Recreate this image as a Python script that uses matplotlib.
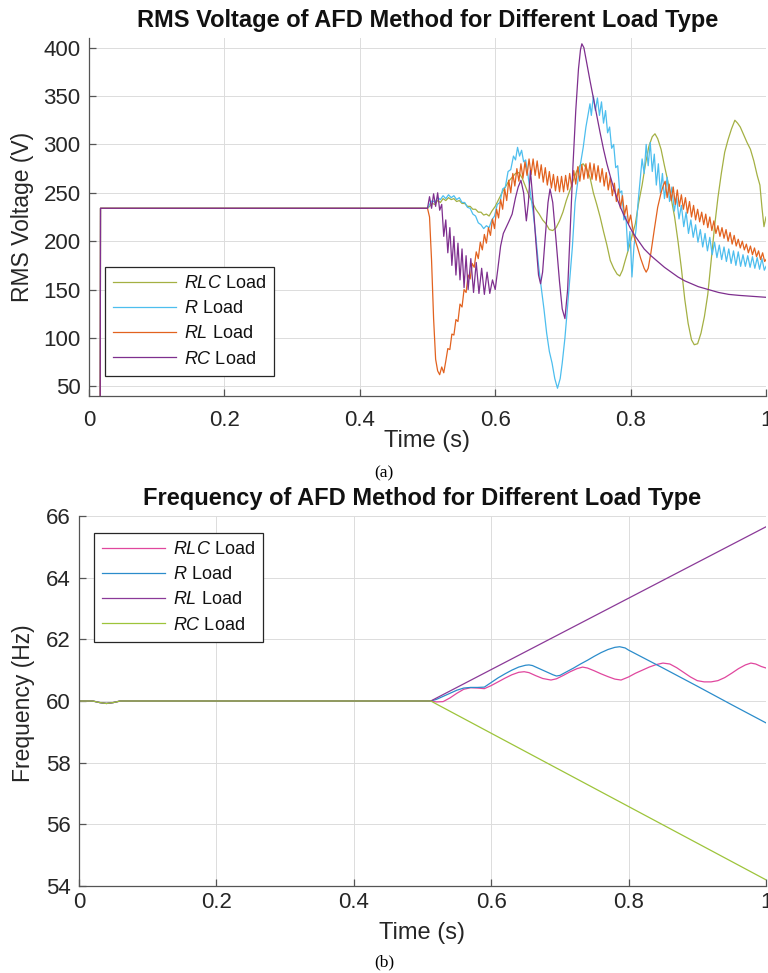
import numpy as np
import matplotlib.pyplot as plt

plt.rcParams['font.family'] = 'Liberation Sans'
plt.rcParams['mathtext.fontset'] = 'custom'
plt.rcParams['mathtext.rm'] = 'Liberation Sans'
plt.rcParams['mathtext.it'] = 'Liberation Sans:italic'

labels = ['$\\mathit{RLC}$ Load', '$\\mathit{R}$ Load', '$\\mathit{RL}$ Load', '$\\mathit{RC}$ Load']

# ---------------- (a) RMS voltage ----------------
start_t = [0.0, 0.0165, 0.017, 0.5]
start_v = [0, 0, 234, 234]

rlc_rms = [(0.503, 236), (0.507, 239), (0.511, 238), (0.515, 242), (0.519, 240), (0.523, 244),
           (0.527, 242), (0.531, 245), (0.535, 243), (0.539, 244), (0.543, 241), (0.547, 242),
           (0.551, 239), (0.555, 239), (0.559, 236), (0.563, 236), (0.567, 233), (0.571, 233),
           (0.575, 230), (0.579, 230), (0.583, 227), (0.587, 228), (0.591, 226), (0.595, 231),
           (0.600, 236), (0.605, 243), (0.610, 250), (0.615, 256), (0.620, 262), (0.625, 266),
           (0.630, 270), (0.635, 271), (0.640, 265), (0.645, 256), (0.650, 247), (0.655, 240),
           (0.660, 233), (0.665, 228), (0.670, 222), (0.675, 218), (0.680, 212), (0.685, 211),
           (0.690, 214), (0.695, 221), (0.700, 230), (0.705, 242), (0.710, 252), (0.715, 262),
           (0.720, 272), (0.725, 278), (0.730, 280), (0.735, 275), (0.740, 266), (0.745, 250),
           (0.750, 238), (0.755, 225), (0.760, 210), (0.765, 196), (0.770, 180), (0.775, 172),
           (0.780, 166), (0.784, 164), (0.788, 170), (0.792, 180), (0.797, 192), (0.802, 205),
           (0.807, 218), (0.812, 240), (0.817, 258), (0.822, 280), (0.827, 298), (0.832, 308),
           (0.836, 311), (0.840, 306), (0.845, 295), (0.850, 278), (0.855, 262), (0.860, 244),
           (0.865, 225), (0.870, 200), (0.875, 172), (0.880, 140), (0.885, 115), (0.890, 98),
           (0.894, 93), (0.899, 94), (0.904, 105), (0.909, 122), (0.914, 145), (0.919, 180),
           (0.924, 215), (0.929, 245), (0.934, 270), (0.939, 292), (0.944, 305), (0.949, 316),
           (0.954, 325), (0.958, 322), (0.962, 318), (0.967, 310), (0.972, 302), (0.977, 295),
           (0.982, 283), (0.987, 268), (0.991, 258), (0.994, 235), (0.997, 215), (1.000, 225)]

r_rms = [(0.503, 238), (0.507, 242), (0.511, 240), (0.515, 245), (0.519, 243), (0.523, 247),
         (0.527, 244), (0.531, 248), (0.535, 245), (0.539, 247), (0.543, 243), (0.547, 245),
         (0.551, 240), (0.555, 240), (0.559, 235), (0.563, 234), (0.567, 228), (0.571, 226),
         (0.575, 219), (0.579, 217), (0.583, 213), (0.587, 216), (0.591, 214), (0.595, 222),
         (0.599, 226), (0.603, 238), (0.607, 240), (0.611, 254), (0.615, 256), (0.619, 272),
         (0.623, 274), (0.627, 288), (0.630, 284), (0.633, 297), (0.636, 288), (0.639, 294),
         (0.642, 282), (0.645, 284), (0.648, 270), (0.652, 250), (0.656, 230), (0.660, 205),
         (0.664, 175), (0.668, 152), (0.672, 130), (0.676, 105), (0.680, 86), (0.684, 74),
         (0.688, 58), (0.692, 48), (0.696, 58), (0.699, 74), (0.703, 100), (0.706, 125),
         (0.710, 160), (0.714, 194), (0.718, 240), (0.722, 262), (0.726, 280), (0.730, 297),
         (0.734, 318), (0.737, 330), (0.740, 342), (0.742, 330), (0.745, 350), (0.748, 335),
         (0.751, 348), (0.754, 330), (0.757, 344), (0.760, 322), (0.763, 335), (0.766, 312),
         (0.769, 318), (0.772, 296), (0.775, 300), (0.778, 276), (0.781, 278), (0.784, 250),
         (0.787, 252), (0.790, 222), (0.793, 226), (0.796, 190), (0.799, 210), (0.802, 163),
         (0.805, 195), (0.808, 212), (0.811, 240), (0.814, 262), (0.817, 285), (0.820, 270),
         (0.823, 300), (0.826, 278), (0.829, 302), (0.832, 272), (0.835, 290), (0.838, 258),
         (0.841, 280), (0.844, 250), (0.847, 270), (0.850, 244)]
# ripple tail, one reading every 3.5 ms from 0.854 s
r_rms_tail = [266, 241, 256, 231, 245, 223, 237, 215, 230, 208, 222, 204, 217, 199, 212, 194,
              208, 190, 204, 186, 199, 183, 196, 181, 194, 179, 192, 177, 190, 175, 189, 174,
              186, 174, 185, 173, 184, 172, 183, 171, 182, 170]
r_rms_end = [(1.000, 174)]

rl_rms_drop = [(0.503, 225), (0.506, 180), (0.509, 120), (0.512, 78), (0.515, 66), (0.518, 62),
               (0.521, 70), (0.524, 64), (0.527, 76)]
# ripple band, one reading every 3 ms from 0.530 s to 0.800 s
rl_rms_band = [89, 88, 104, 103, 119, 117, 135, 132, 150, 147, 165, 161, 177, 173, 189, 182,
               199, 191, 207, 198, 214, 206, 223, 213, 233, 224, 243, 233, 254, 242, 263, 250,
               270, 257, 275, 262, 280, 265, 282, 268, 285, 269, 285, 268, 283, 265, 279, 261,
               276, 258, 272, 255, 269, 252, 267, 251, 267, 251, 268, 253, 270, 256, 273, 259,
               277, 262, 279, 264, 280, 265, 281, 264, 280, 263, 278, 261, 275, 257, 271, 253,
               266, 247, 260, 241, 254, 234, 247, 227, 237, 218, 227]
rl_rms_dip = [(0.805, 205), (0.810, 194), (0.815, 182), (0.820, 172), (0.823, 168), (0.826, 172),
              (0.830, 188), (0.835, 212), (0.840, 235), (0.845, 250), (0.848, 257)]
# decaying ripple, one reading every 3 ms from 0.851 s
rl_rms_tail = [262, 245, 259, 242, 256, 238, 253, 236, 248, 233, 245, 229, 241, 225, 237, 222,
               233, 220, 230, 217, 228, 214, 225, 211, 221, 208, 216, 205, 214, 203, 212, 200,
               209, 197, 206, 195, 202, 193, 200, 191, 197, 188, 195, 186, 193, 184, 190, 181,
               188, 179]
rl_rms_end = [(1.000, 181)]

rc_rms = [(0.503, 246), (0.506, 234), (0.509, 249), (0.512, 236), (0.515, 250), (0.518, 232),
          (0.521, 238), (0.524, 205), (0.527, 222), (0.530, 188), (0.533, 214), (0.536, 175),
          (0.539, 205), (0.542, 165), (0.545, 198), (0.548, 160), (0.551, 192), (0.554, 152),
          (0.557, 185), (0.560, 150), (0.564, 182), (0.568, 147), (0.572, 178), (0.576, 146),
          (0.580, 172), (0.584, 145), (0.588, 168), (0.592, 146), (0.596, 160), (0.600, 150),
          (0.604, 172), (0.608, 195), (0.612, 208), (0.616, 214), (0.620, 220), (0.625, 228),
          (0.630, 245), (0.634, 256), (0.638, 263), (0.642, 250), (0.646, 221), (0.649, 240),
          (0.652, 273), (0.656, 240), (0.660, 200), (0.664, 165), (0.667, 156), (0.670, 168),
          (0.674, 205), (0.678, 240), (0.681, 254), (0.685, 240), (0.690, 200), (0.695, 158),
          (0.699, 130), (0.703, 120), (0.707, 150), (0.711, 215), (0.715, 280), (0.719, 335),
          (0.723, 378), (0.726, 398), (0.728, 404), (0.731, 400), (0.735, 385), (0.740, 366),
          (0.745, 348), (0.750, 330), (0.755, 312), (0.760, 295), (0.765, 280), (0.770, 267),
          (0.775, 255), (0.780, 244), (0.785, 235), (0.790, 227), (0.795, 220), (0.800, 213),
          (0.805, 207), (0.810, 202), (0.815, 197), (0.820, 192), (0.830, 185), (0.840, 179),
          (0.850, 173), (0.860, 168), (0.870, 163), (0.880, 159), (0.890, 156), (0.900, 153),
          (0.915, 150), (0.930, 147), (0.945, 145), (0.960, 144), (0.980, 143), (1.000, 142)]

# ---------------- (b) frequency ----------------
freq_start = [(0.0, 60.0), (0.02, 60.0), (0.03, 59.95), (0.04, 59.92), (0.05, 59.95),
              (0.06, 60.0), (0.512, 60.0)]

rlc_freq = [(0.520, 59.97), (0.530, 59.98), (0.540, 60.10), (0.550, 60.25), (0.560, 60.38),
            (0.570, 60.43), (0.580, 60.42), (0.590, 60.40), (0.600, 60.50), (0.610, 60.62),
            (0.620, 60.74), (0.630, 60.85), (0.640, 60.93), (0.648, 60.95), (0.655, 60.92),
            (0.665, 60.82), (0.675, 60.73), (0.687, 60.68), (0.695, 60.72), (0.705, 60.83),
            (0.715, 60.95), (0.725, 61.05), (0.733, 61.10), (0.740, 61.07), (0.750, 60.98),
            (0.760, 60.88), (0.770, 60.79), (0.780, 60.71), (0.789, 60.68), (0.800, 60.78),
            (0.810, 60.90), (0.820, 61.00), (0.830, 61.10), (0.840, 61.18), (0.850, 61.23),
            (0.860, 61.20), (0.870, 61.08), (0.880, 60.93), (0.890, 60.78), (0.900, 60.66),
            (0.910, 60.62), (0.920, 60.62), (0.930, 60.66), (0.940, 60.76), (0.950, 60.90),
            (0.960, 61.05), (0.970, 61.17), (0.978, 61.23), (0.985, 61.20), (0.993, 61.12),
            (1.000, 61.07)]

r_freq = [(0.520, 60.05), (0.530, 60.15), (0.540, 60.25), (0.550, 60.35), (0.560, 60.42),
          (0.570, 60.44), (0.580, 60.44), (0.590, 60.45), (0.600, 60.60), (0.610, 60.75),
          (0.620, 60.88), (0.630, 61.00), (0.640, 61.10), (0.650, 61.16), (0.655, 61.17),
          (0.660, 61.15), (0.670, 61.05), (0.680, 60.95), (0.690, 60.85), (0.695, 60.81),
          (0.700, 60.83), (0.710, 60.95), (0.720, 61.07), (0.730, 61.20), (0.740, 61.32),
          (0.750, 61.45), (0.760, 61.57), (0.770, 61.67), (0.780, 61.74), (0.787, 61.76),
          (0.795, 61.72), (0.800, 61.65), (0.850, 61.07), (0.900, 60.48), (0.950, 59.88),
          (1.000, 59.29)]

rl_freq = [(1.000, 65.65)]
rc_freq = [(1.000, 54.20)]


def pairs(*parts):
    t, v = [], []
    for p in parts:
        t += [a for a, b in p]
        v += [b for a, b in p]
    return np.array(t), np.array(v)


def band(t0, dt, vals):
    return [(t0 + i * dt, x) for i, x in enumerate(vals)]


start = list(zip(start_t, start_v))
rms_series = [
    pairs(start, rlc_rms),
    pairs(start, r_rms, band(0.854, 0.0035, r_rms_tail), r_rms_end),
    pairs(start, rl_rms_drop, band(0.530, 0.003, rl_rms_band), rl_rms_dip,
          band(0.851, 0.003, rl_rms_tail), rl_rms_end),
    pairs(start, rc_rms),
]
freq_series = [
    pairs(freq_start, rlc_freq),
    pairs(freq_start, r_freq),
    pairs(freq_start, rl_freq),
    pairs(freq_start, rc_freq),
]

rms_colors = ['#A4B043', '#4DBEEE', '#E2621F', '#7E2F8E']
freq_colors = ['#E0479E', '#2B8CCB', '#8B3A98', '#9DC43A']

W, H = 768, 973
fig = plt.figure(figsize=(W / 100, H / 100), dpi=100)
ax1 = fig.add_axes([89 / W, 1 - 396 / H, 677 / W, 358 / H])
ax2 = fig.add_axes([79 / W, 1 - 886 / H, 687 / W, 370 / H])

axis_col = '#262626'


def style(ax):
    ax.grid(True, color='#dcdcdc', lw=0.7)
    ax.set_axisbelow(True)
    for s in ['top', 'right']:
        ax.spines[s].set_visible(False)
    for s in ['left', 'bottom']:
        ax.spines[s].set_color('#555555')
        ax.spines[s].set_linewidth(0.9)
    ax.tick_params(direction='in', length=5, width=0.9, color='#555555',
                   labelcolor=axis_col, labelsize=16)
    ax.set_xlim(0, 1)
    ax.set_xticks([0, 0.2, 0.4, 0.6, 0.8, 1])
    ax.set_xticklabels(['0', '0.2', '0.4', '0.6', '0.8', '1'])


for (t, v), c, lab in zip(rms_series, rms_colors, labels):
    ax1.plot(t, v, color=c, lw=0.9, label=lab)
style(ax1)
ax1.set_ylim(40, 410)
ax1.set_yticks(range(50, 401, 50))
ax1.tick_params(axis='x', pad=10)
ax1.tick_params(axis='y', pad=6)

for (t, v), c, lab in zip(freq_series, freq_colors, labels):
    ax2.plot(t, v, color=c, lw=0.9, label=lab)
style(ax2)
ax2.set_ylim(54, 66)
ax2.set_yticks(range(54, 67, 2))
ax2.tick_params(axis='x', pad=4)
ax2.tick_params(axis='y', pad=6)

leg_kw = dict(fontsize=13, frameon=True, fancybox=False, framealpha=1, handlelength=3.5,
              handletextpad=0.4, labelspacing=0.45, borderpad=0.45, borderaxespad=0)
leg1 = ax1.legend(loc='upper left', bbox_to_anchor=(0.0236, 0.360), **leg_kw)
leg2 = ax2.legend(loc='upper left', bbox_to_anchor=(0.0218, 0.954), **leg_kw)
for leg in (leg1, leg2):
    leg.get_frame().set_edgecolor(axis_col)
    leg.get_frame().set_linewidth(0.9)
    for txt in leg.get_texts():
        txt.set_color('#111111')

fig.text(428 / W, 1 - 20 / H, 'RMS Voltage of AFD Method for Different Load Type',
         ha='center', va='center', fontsize=17, fontweight='bold', color='#111111')
fig.text(427 / W, 1 - 441 / H, 'Time (s)', ha='center', va='center', fontsize=17, color=axis_col)
fig.text(23 / W, 1 - 217 / H, 'RMS Voltage (V)', ha='center', va='center', rotation=90,
         fontsize=16.5, color=axis_col)
fig.text(384 / W, 1 - 473 / H, '(a)', ha='center', va='center', fontsize=12.5,
         family='Liberation Serif', color='black')

fig.text(422 / W, 1 - 498 / H, 'Frequency of AFD Method for Different Load Type',
         ha='center', va='center', fontsize=17, fontweight='bold', color='#111111')
fig.text(422 / W, 1 - 933 / H, 'Time (s)', ha='center', va='center', fontsize=17, color=axis_col)
fig.text(24 / W, 1 - 703 / H, 'Frequency (Hz)', ha='center', va='center', rotation=90,
         fontsize=16.5, color=axis_col)
fig.text(384 / W, 1 - 962 / H, '(b)', ha='center', va='center', fontsize=12.5,
         family='Liberation Serif', color='black')

fig.savefig('out.png', dpi=100)
